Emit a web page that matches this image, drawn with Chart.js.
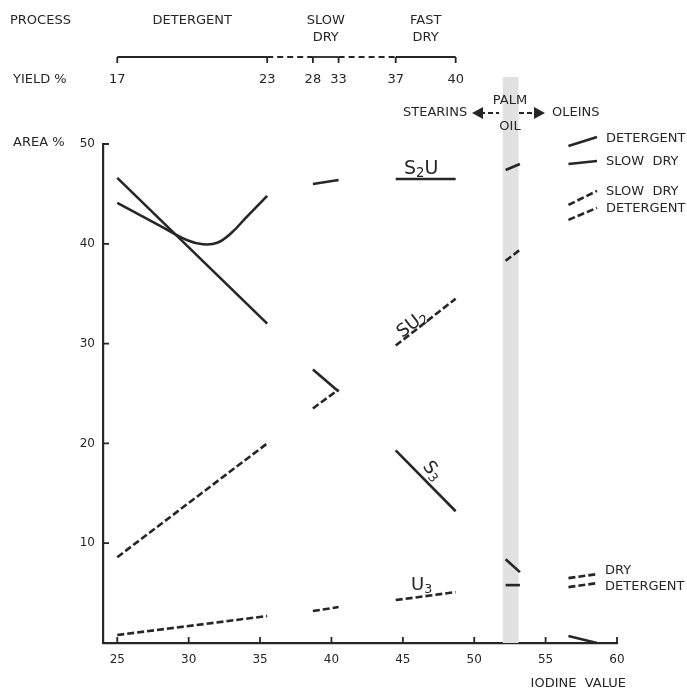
<!DOCTYPE html>
<html>
<head>
<meta charset="utf-8">
<script src="https://cdn.jsdelivr.net/npm/chart.js@4/dist/chart.umd.min.js"></script>
<style>
  body { margin: 0; background: #fff; }
  #wrap { width: 687px; height: 691px; }
</style>
</head>
<body>
<div id="wrap"><canvas id="fatChart"></canvas></div>
<script>
// axis ticks
var xTicks = [25, 30, 35, 40, 45, 50, 55, 60];
var yTicks = [10, 20, 30, 40, 50];

// process / yield header (positions in iodine value)
var bracketX = [25, 35.5, 38.7, 40.5, 44.5, 48.7];
var yieldLabels = ['17', '23', '28', '33', '37', '40'];
var processNames = [['DETERGENT'], ['SLOW', 'DRY'], ['FAST', 'DRY']];
var palmBand = [52.0, 53.1];

// detergent stearins
var detStraightX = [25, 35.5];
var detStraightY = [46.6, 32.0];
var detCurveX = [25, 28, 30, 31, 32, 33, 34, 35.5];
var detCurveY = [44.1, 41.8, 40.3, 39.95, 40.1, 41.1, 42.6, 44.8];
var detDashHiX = [25, 35.5];
var detDashHiY = [8.6, 20.0];
var detDashLoX = [25, 35.5];
var detDashLoY = [0.8, 2.7];

// slow dry stearins
var slowX = [38.7, 40.5];
var slowSolidTopY = [46.0, 46.4];
var slowSolidMidY = [27.4, 25.2];
var slowDashMidY = [23.5, 25.4];
var slowDashLoY = [3.2, 3.6];

// fast dry stearins
var fastX = [44.5, 48.7];
var fastS2UY = [46.5, 46.5];
var fastSU2Y = [29.8, 34.5];
var fastS3Y = [19.3, 13.2];
var fastU3Y = [4.3, 5.1];

// palm oil
var palmX = [52.2, 53.2];
var palmS2UY = [47.4, 48.0];
var palmSU2Y = [38.3, 39.4];
var palmS3Y = [8.4, 7.1];
var palmU3Y = [5.8, 5.8];

// oleins
var oleinX = [56.6, 58.6];
var oleinDetSolidY = [49.8, 50.7];
var oleinSlowSolidY = [48.0, 48.3];
var oleinSlowDashY = [43.9, 45.3];
var oleinDetDashY = [42.4, 43.6];
var oleinDryDashY = [6.5, 6.9];
var oleinDetDash2Y = [5.6, 6.0];
var oleinBottomY = [0.7, 0.0];

var INK = '#262626';
var FONT = '"DejaVu Sans", sans-serif';

function seg(xs, ys, dashed, curved) {
    return {
        data: xs.map((x, i) => ({ x: x, y: ys[i] })),
        borderColor: INK,
        borderWidth: 2.6,
        borderDash: dashed ? [7, 3] : [],
        pointRadius: 0,
        fill: false,
        tension: curved ? 0.4 : 0,
        clip: false
    };
}

var datasets = [
    seg(detStraightX, detStraightY, false),
    seg(detCurveX, detCurveY, false, true),
    seg(detDashHiX, detDashHiY, true),
    seg(detDashLoX, detDashLoY, true),
    seg(slowX, slowSolidTopY, false),
    seg(slowX, slowSolidMidY, false),
    seg(slowX, slowDashMidY, true),
    seg(slowX, slowDashLoY, true),
    seg(fastX, fastS2UY, false),
    seg(fastX, fastSU2Y, true),
    seg(fastX, fastS3Y, false),
    seg(fastX, fastU3Y, true),
    seg(palmX, palmS2UY, false),
    seg(palmX, palmSU2Y, true),
    seg(palmX, palmS3Y, false),
    seg(palmX, palmU3Y, false),
    seg(oleinX, oleinDetSolidY, false),
    seg(oleinX, oleinSlowSolidY, false),
    seg(oleinX, oleinSlowDashY, true),
    seg(oleinX, oleinDetDashY, true),
    seg(oleinX, oleinDryDashY, true),
    seg(oleinX, oleinDetDash2Y, true),
    seg(oleinX, oleinBottomY, false)
];

// text with a subscript part: parts = [[text, isSub], ...]
function subText(ctx, parts, x, y, size) {
    var cx = x;
    parts.forEach(p => {
        var s = p[1] ? size * 0.7 : size;
        ctx.font = s + 'px ' + FONT;
        ctx.fillText(p[0], cx, p[1] ? y + size * 0.15 : y);
        cx += ctx.measureText(p[0]).width;
    });
    return cx - x;
}

var decorPlugin = {
    id: 'decor',
    beforeDatasetsDraw(chart) {
        var ctx = chart.ctx, xs = chart.scales.x, area = chart.chartArea;
        // palm oil band
        ctx.save();
        ctx.fillStyle = '#e1e1e1';
        var b0 = xs.getPixelForValue(palmBand[0]), b1 = xs.getPixelForValue(palmBand[1]);
        ctx.fillRect(b0, 77, b1 - b0, area.bottom - 77);
        ctx.restore();
    },
    afterDraw(chart) {
        var ctx = chart.ctx, xs = chart.scales.x, ys = chart.scales.y, area = chart.chartArea;
        ctx.save();
        ctx.fillStyle = INK;
        ctx.strokeStyle = INK;
        ctx.textBaseline = 'middle';

        // inside tick marks
        ctx.lineWidth = 1.8;
        ctx.beginPath();
        xTicks.forEach(v => {
            var px = xs.getPixelForValue(v);
            ctx.moveTo(px, area.bottom);
            ctx.lineTo(px, area.bottom - 6);
        });
        yTicks.forEach(v => {
            var py = ys.getPixelForValue(v);
            ctx.moveTo(area.left, py);
            ctx.lineTo(area.left + 6, py);
        });
        ctx.stroke();

        // header
        ctx.font = '13px ' + FONT;
        ctx.textAlign = 'left';
        ctx.fillText('PROCESS', 10, 21);
        ctx.fillText('YIELD %', 13, 80);
        ctx.fillText('AREA %', 13, 143);
        ctx.textAlign = 'center';
        for (var i = 0; i < processNames.length; i++) {
            var cx = xs.getPixelForValue((bracketX[2 * i] + bracketX[2 * i + 1]) / 2);
            processNames[i].forEach((t, k) => ctx.fillText(t, cx, 21 + k * 17));
        }
        // brackets
        ctx.lineWidth = 1.8;
        for (var i = 0; i < bracketX.length; i++) {
            var px = xs.getPixelForValue(bracketX[i]);
            ctx.fillText(yieldLabels[i], px, 80);
            if (i < bracketX.length - 1) {
                var nx = xs.getPixelForValue(bracketX[i + 1]);
                ctx.setLineDash(i % 2 === 0 ? [] : [6, 4]);
                ctx.beginPath();
                ctx.moveTo(px, 57);
                ctx.lineTo(nx, 57);
                ctx.stroke();
            }
            ctx.setLineDash([]);
            ctx.beginPath();
            ctx.moveTo(px, 57);
            ctx.lineTo(px, 63);
            ctx.stroke();
        }

        // stearins / oleins arrows
        ctx.textAlign = 'left';
        ctx.fillText('STEARINS', 403, 113);
        ctx.fillText('OLEINS', 552, 113);
        ctx.textAlign = 'center';
        ctx.fillText('PALM', 510, 101);
        ctx.fillText('OIL', 510, 127);
        ctx.setLineDash([5, 3]);
        ctx.beginPath();
        ctx.moveTo(480, 113); ctx.lineTo(499, 113);
        ctx.moveTo(519, 113); ctx.lineTo(535, 113);
        ctx.stroke();
        ctx.setLineDash([]);
        ctx.beginPath();
        ctx.moveTo(472, 113); ctx.lineTo(483, 107); ctx.lineTo(483, 119); ctx.closePath();
        ctx.moveTo(545, 113); ctx.lineTo(534, 107); ctx.lineTo(534, 119); ctx.closePath();
        ctx.fill();

        // right side key labels
        ctx.textAlign = 'left';
        ctx.fillText('DETERGENT', 606, 139);
        ctx.fillText('SLOW  DRY', 606, 162);
        ctx.fillText('SLOW  DRY', 606, 192);
        ctx.fillText('DETERGENT', 606, 209);
        ctx.fillText('DRY', 605, 571);
        ctx.fillText('DETERGENT', 605, 587);

        // x axis title
        ctx.textAlign = 'right';
        ctx.fillText('IODINE  VALUE', 626, 684);

        // species labels
        ctx.textAlign = 'left';
        ctx.textBaseline = 'alphabetic';
        subText(ctx, [['S', 0], ['2', 1], ['U', 0]], 404, 174, 19);
        subText(ctx, [['U', 0], ['3', 1]], 411, 590, 18);

        ctx.save();
        ctx.translate(413, 321);
        ctx.rotate(-38 * Math.PI / 180);
        subText(ctx, [['S', 0], ['U', 0], ['2', 1]], -19, 7, 18);
        ctx.restore();

        ctx.save();
        ctx.translate(434, 470);
        ctx.rotate(52 * Math.PI / 180);
        subText(ctx, [['S', 0], ['3', 1]], -10, 7, 18);
        ctx.restore();

        ctx.restore();
    }
};

new Chart(document.getElementById('fatChart').getContext('2d'), {
    type: 'line',
    data: { datasets: datasets },
    options: {
        responsive: true,
        maintainAspectRatio: false,
        animation: false,
        layout: { padding: { top: 144, right: 70, left: 0, bottom: 0 } },
        plugins: { legend: { display: false }, tooltip: { enabled: false } },
        scales: {
            x: {
                type: 'linear',
                min: 24,
                max: 60,
                afterFit(s) { s.height = 48; },
                afterBuildTicks(s) { s.ticks = xTicks.map(v => ({ value: v })); },
                grid: { drawOnChartArea: false, drawTicks: false },
                border: { color: INK, width: 2.2 },
                ticks: { color: INK, padding: 10, font: { family: FONT, size: 12 } }
            },
            y: {
                type: 'linear',
                min: 0,
                max: 50,
                afterFit(s) { s.width = 103; },
                afterBuildTicks(s) { s.ticks = yTicks.map(v => ({ value: v })); },
                grid: { drawOnChartArea: false, drawTicks: false },
                border: { color: INK, width: 2.2 },
                ticks: { color: INK, padding: 8, font: { family: FONT, size: 12 } }
            }
        }
    },
    plugins: [decorPlugin]
});
</script>
</body>
</html>
